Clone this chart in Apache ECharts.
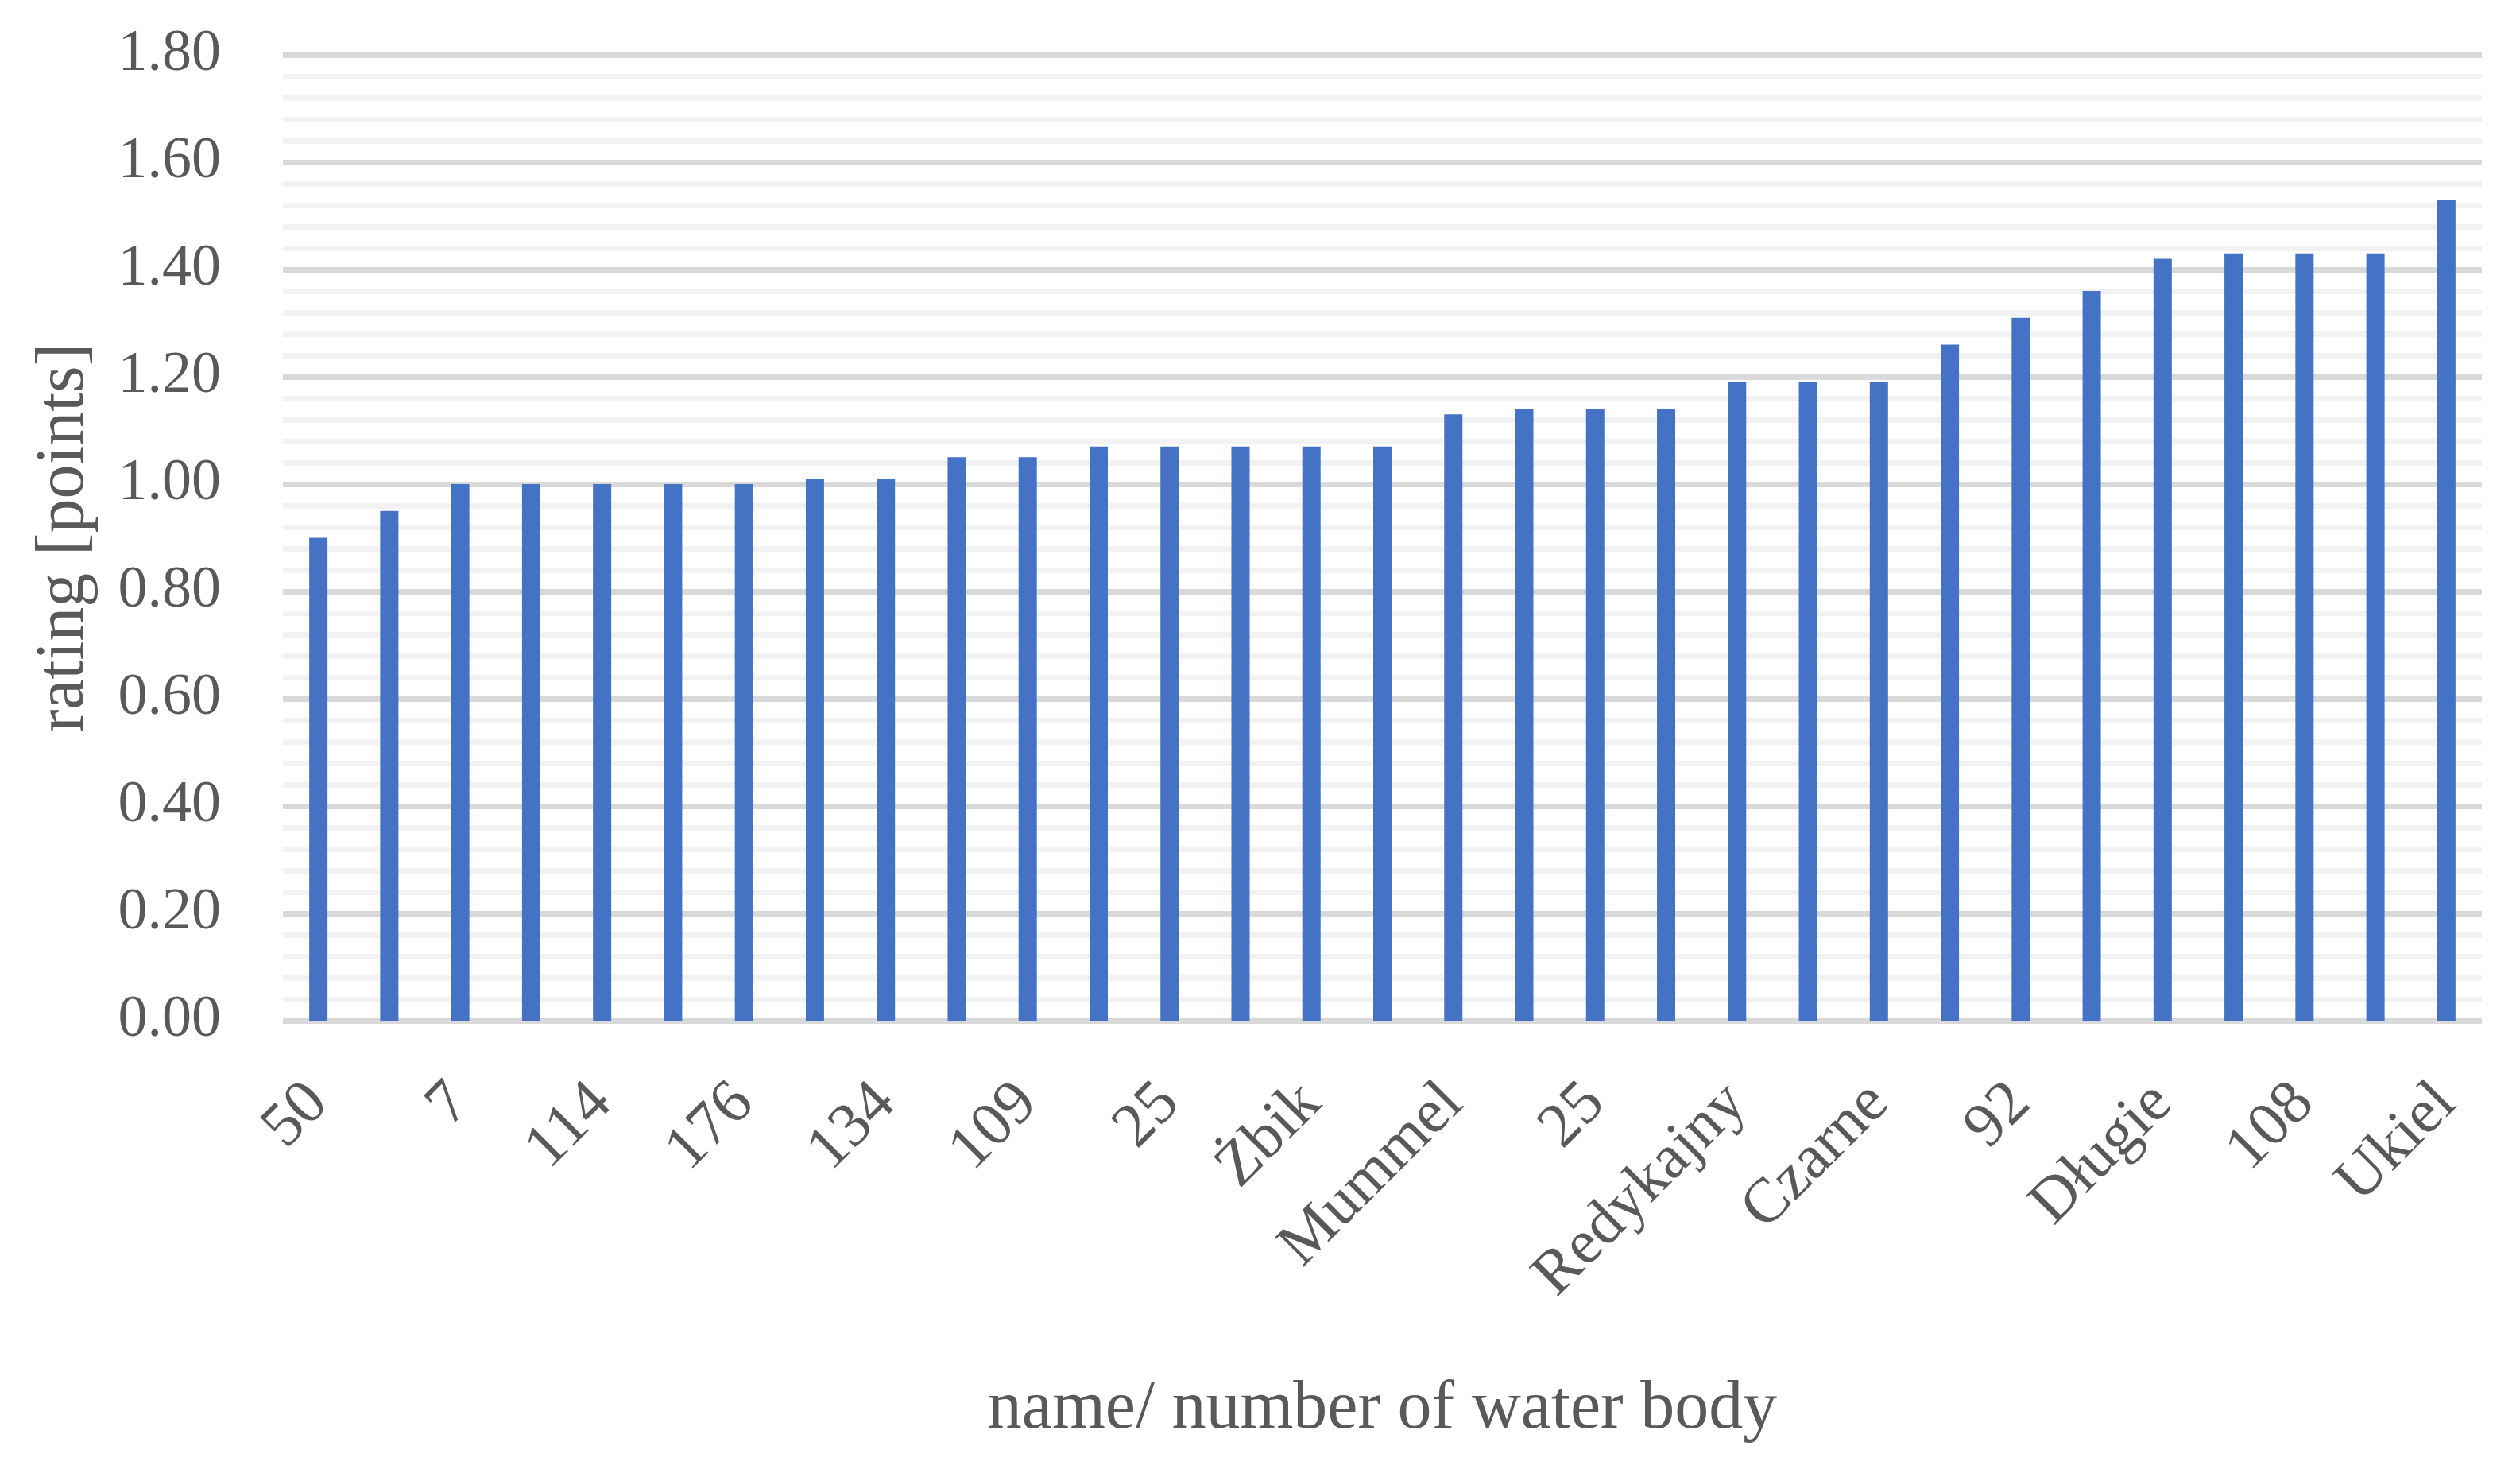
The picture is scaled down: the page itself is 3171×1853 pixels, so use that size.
<!DOCTYPE html>
<html>
<head>
<meta charset="utf-8">
<script src="https://cdn.jsdelivr.net/npm/echarts@6/dist/echarts.min.js"></script>
<style>
html,body{margin:0;padding:0;background:#fff;}
#chart{width:3171px;height:1853px;}
</style>
</head>
<body>
<div id="chart"></div>
<script>
// Categories (only every other label is visible in the reference; hidden ones left blank)
const categories = ["50","","7","","114","","176","","134","","109","","25","","Żbik","","Mummel","","25","","Redykajny","","Czarne","","92","","Długie","","108","","Ukiel"];
const ratings = [0.90,0.95,1.00,1.00,1.00,1.00,1.00,1.01,1.01,1.05,1.05,1.07,1.07,1.07,1.07,1.07,1.13,1.14,1.14,1.14,1.19,1.19,1.19,1.26,1.31,1.36,1.42,1.43,1.43,1.43,1.53];
const yMin = 0, yMax = 1.8, yStep = 0.2;
const xTitle = "name/ number of water body";
const yTitle = "rating [points]";

const FONT = "'Liberation Serif', 'DejaVu Serif', serif";
const TXT = "#595959";

const chart = echarts.init(document.getElementById('chart'), null, {renderer:'canvas'});
chart.setOption({
  backgroundColor:'#ffffff',
  animation:false,
  grid:{left:356,right:48,top:69,bottom:569,containLabel:false},
  xAxis:{
    type:'category',
    data:categories,
    axisTick:{show:false},
    axisLine:{show:false},
    axisLabel:{interval:1,rotate:45,margin:92,fontSize:79,color:TXT,fontFamily:FONT},
    name:xTitle,
    nameLocation:'middle',
    nameGap:446,
    nameTextStyle:{fontSize:86,color:TXT,fontFamily:FONT}
  },
  yAxis:{
    type:'value',
    min:yMin,max:yMax,interval:yStep,
    axisLine:{show:false},
    axisTick:{show:false},
    axisLabel:{margin:78,fontSize:74,color:TXT,fontFamily:FONT,formatter:v=>v.toFixed(2)},
    splitLine:{show:true,lineStyle:{color:'#d9d9d9',width:7}},
    minorTick:{show:false,splitNumber:5},
    minorSplitLine:{show:true,lineStyle:{color:'#f2f2f2',width:7}},
    name:yTitle,
    nameLocation:'middle',
    nameGap:232,
    nameTextStyle:{fontSize:86,color:TXT,fontFamily:FONT}
  },
  series:[{
    type:'bar',
    data:ratings,
    barWidth:23,
    itemStyle:{color:'#4472c4'}
  }]
});
</script>
</body>
</html>
